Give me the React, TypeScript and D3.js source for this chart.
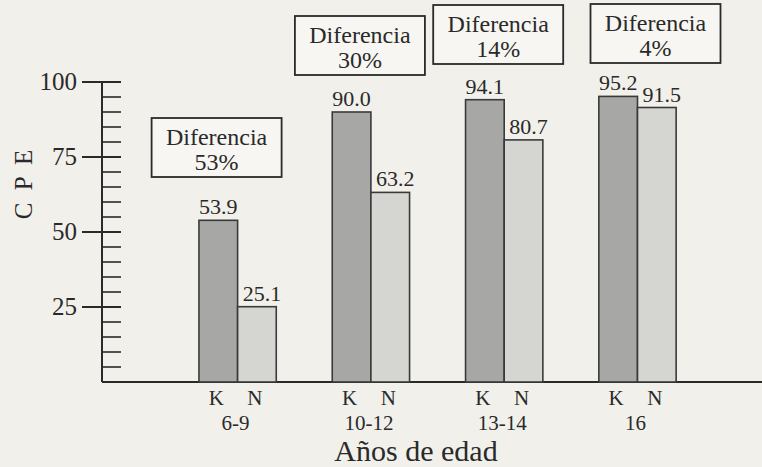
import React from "react";
import * as d3 from "d3";

// ---- data ----
const groups = ["6-9", "10-12", "13-14", "16"];
const seriesNames = ["K", "N"];
const valuesK = [53.9, 90.0, 94.1, 95.2];
const valuesN = [25.1, 63.2, 80.7, 91.5];
const diffPercents = [53, 30, 14, 4];
const majorTicks = [25, 50, 75, 100];
const yTitle = "C P E";
const xTitle = "Años de edad";
const boxTitle = "Diferencia";

// ---- layout (pixel offsets for annotation boxes) ----
const boxLayout = [
  { dx: -21, top: 118 },
  { dx: -11, top: 16 },
  { dx: -6, top: 5 },
  { dx: 18, top: 4 },
];

const W = 762;
const H = 467;
const FONT = "'Liberation Serif', 'Times New Roman', serif";
const INK = "#2a2a2a";

export default function App() {
  const x = d3
    .scaleBand<string>()
    .domain(groups)
    .range([132.3, 742.8])
    .paddingInner(0.42)
    .paddingOuter(0.5);
  const xi = d3
    .scaleBand<string>()
    .domain(seriesNames)
    .range([0, x.bandwidth()]);
  const y = d3.scaleLinear().domain([0, 100]).range([382, 82]);
  const axisX = 102;
  const minorTicks = d3.range(5, 100, 5).filter((v) => !majorTicks.includes(v));
  const series = [valuesK, valuesN];
  const fills = ["#a7a7a5", "#d5d5d2"];
  const boxW = 130;
  const boxH = 59;

  return (
    <svg
      width={W}
      height={H}
      style={{ position: "absolute", left: 0, top: 0, background: "#f1f0eb" }}
    >
      <rect x={0} y={0} width={W} height={H} fill="#f1f0eb" />
      {/* y title */}
      <text
        transform={`translate(32,183) rotate(-90)`}
        textAnchor="middle"
        fontFamily={FONT}
        fontSize={25}
        letterSpacing={3}
        fill={INK}
      >
        {yTitle}
      </text>
      {/* axis */}
      <line x1={axisX} x2={axisX} y1={y(100)} y2={y(0)} stroke={INK} strokeWidth={2} />
      <line x1={axisX} x2={W} y1={y(0)} y2={y(0)} stroke={INK} strokeWidth={2} />
      {minorTicks.map((v) => (
        <line key={"m" + v} x1={axisX} x2={121} y1={y(v)} y2={y(v)} stroke={INK} strokeWidth={1.6} />
      ))}
      {majorTicks.map((v) => (
        <g key={"M" + v}>
          <line x1={82} x2={121} y1={y(v)} y2={y(v)} stroke={INK} strokeWidth={1.8} />
          <text
            x={77}
            y={y(v) + 8}
            textAnchor="end"
            fontFamily={FONT}
            fontSize={25}
            fill={INK}
          >
            {v}
          </text>
        </g>
      ))}
      {/* bars */}
      {groups.map((g, gi) => (
        <g key={g}>
          {seriesNames.map((s, si) => {
            const v = series[si][gi];
            const bx = (x(g) ?? 0) + (xi(s) ?? 0);
            const bw = xi.bandwidth();
            return (
              <g key={s}>
                <rect
                  x={bx}
                  y={y(v)}
                  width={bw}
                  height={y(0) - y(v)}
                  fill={fills[si]}
                  stroke="#3a3a3a"
                  strokeWidth={1.6}
                />
                <text
                  x={bx + bw / 2 + (si === 1 ? 5 : 0)}
                  y={y(v) - 6}
                  textAnchor="middle"
                  fontFamily={FONT}
                  fontSize={22}
                  fill={INK}
                >
                  {v.toFixed(1)}
                </text>
                <text
                  x={bx + bw / 2 - 2}
                  y={405}
                  textAnchor="middle"
                  fontFamily={FONT}
                  fontSize={21}
                  fill={INK}
                >
                  {s}
                </text>
              </g>
            );
          })}
          <text
            x={(x(g) ?? 0) + x.bandwidth() / 2 - 2}
            y={430}
            textAnchor="middle"
            fontFamily={FONT}
            fontSize={21}
            fill={INK}
          >
            {g}
          </text>
          {/* difference box */}
          {(() => {
            const cx = (x(g) ?? 0) + x.bandwidth() / 2 + boxLayout[gi].dx;
            const top = boxLayout[gi].top;
            return (
              <g>
                <rect
                  x={cx - boxW / 2}
                  y={top}
                  width={boxW}
                  height={boxH}
                  fill="#f7f6f2"
                  stroke={INK}
                  strokeWidth={1.8}
                />
                <text
                  x={cx}
                  y={top + 27}
                  textAnchor="middle"
                  fontFamily={FONT}
                  fontSize={24}
                  fill={INK}
                >
                  {boxTitle}
                </text>
                <text
                  x={cx}
                  y={top + 52}
                  textAnchor="middle"
                  fontFamily={FONT}
                  fontSize={24}
                  fill={INK}
                >
                  {diffPercents[gi] + "%"}
                </text>
              </g>
            );
          })()}
        </g>
      ))}
      {/* x title */}
      <text
        x={416}
        y={461}
        textAnchor="middle"
        fontFamily={FONT}
        fontSize={30}
        fill={INK}
      >
        {xTitle}
      </text>
    </svg>
  );
}
